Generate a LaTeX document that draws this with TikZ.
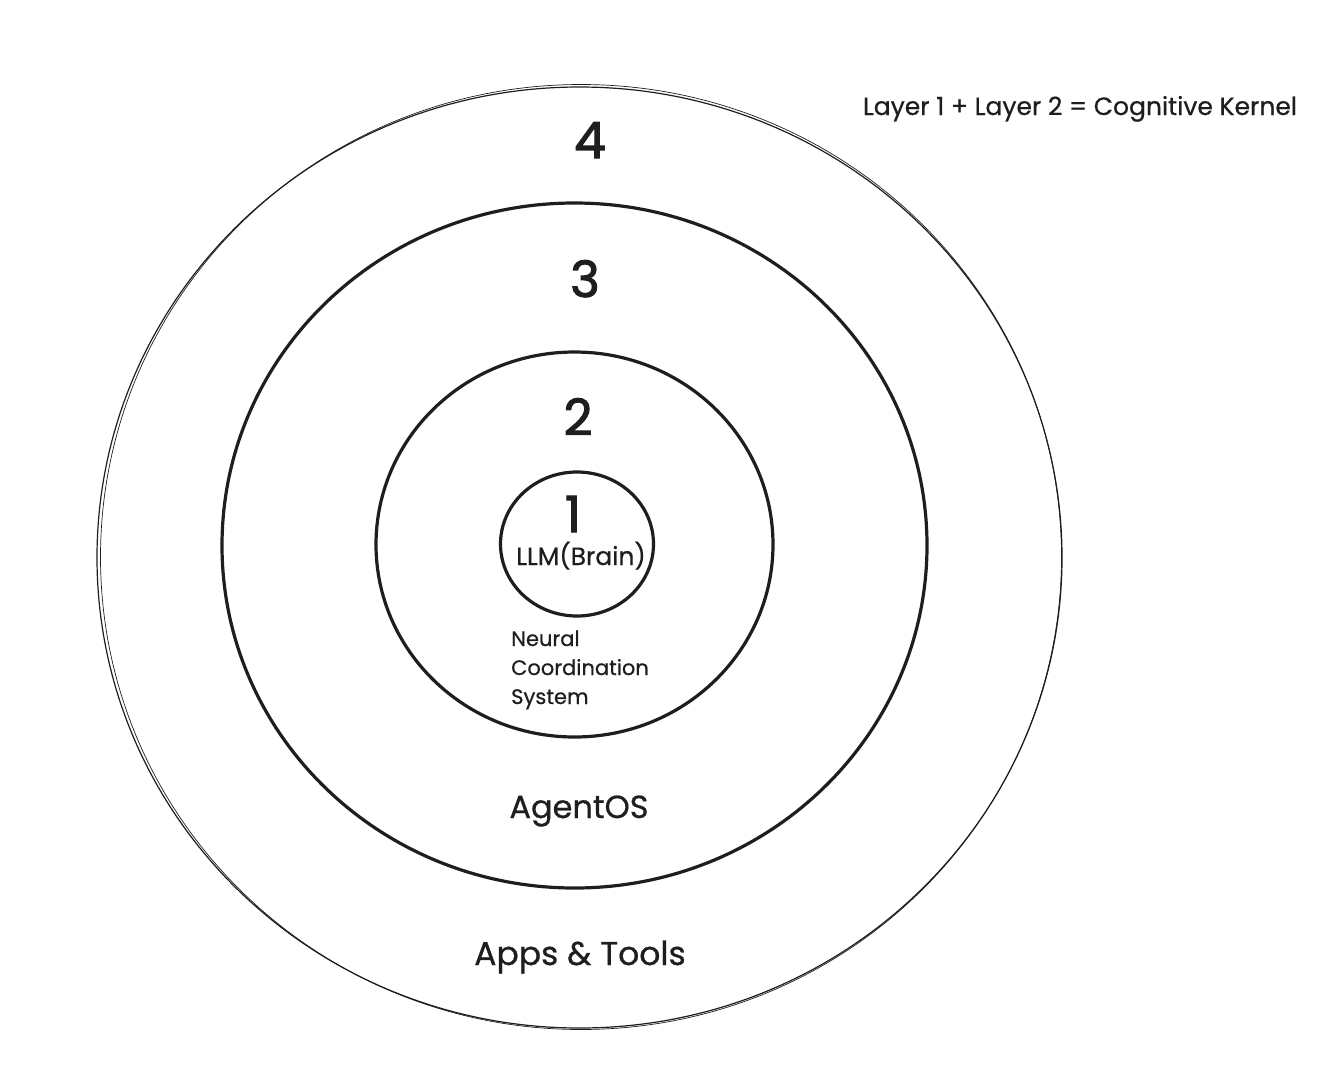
\documentclass[tikz,border=0pt]{standalone}
\usepackage{fontspec}
\setmainfont{Poppins}[FakeBold=0.6]
\newfontfamily\numfont{Poppins}[FakeBold=2.2]
\usepackage{xcolor}
\usetikzlibrary{positioning,shapes.geometric}
\definecolor{ink}{HTML}{1E1E1E}
\tikzset{ring/.style={draw=ink,ellipse,inner sep=0pt,line width=3.2pt},
  outerring/.style={draw=ink,ellipse,inner sep=0pt,line width=1.2pt},
  num/.style={text=ink,anchor=base,inner sep=0pt,font=\numfont\fontsize{50}{50}\selectfont},
  lbl/.style={text=ink,anchor=base,inner sep=0pt}}

\begin{document}
\begin{tikzpicture}[x=1pt,y=-1pt]
\useasboundingbox (0,0) rectangle (1344,1072);
% layers, from outside in
\node[outerring,minimum width=965,minimum height=941] (l4) at (579.5,557.5) {};
\node[draw=ink,ellipse,inner sep=0pt,line width=0.7pt,minimum width=961,minimum height=945] (l4b) at (581,557) {};
\node[ring,minimum width=705,minimum height=685] (l3) at (574.5,545.5) {};
\node[ring,minimum width=397,minimum height=385] (l2) at (574.5,544.5) {};
\node[ring,minimum width=153,minimum height=144] (l1) at (577,544) {};
% layer numbers
\node[num] (n4) at (590,158) {4};
\node[num] (n3) at (585,297) {3};
\node[num] (n2) at (578,435) {2};
\node[num] (n1) at (573,532) {1};
% layer names
\node[lbl,font=\fontsize{25}{25}\selectfont] (brain) at (581,565) {LLM(Brain)};
\node[text=ink,anchor=base west,inner sep=0pt,align=left,font=\fontsize{21}{29}\selectfont] (neural) at (511,704) {Neural\\Coordination\\System};
\node[lbl,font=\fontsize{32}{32}\selectfont] (os) at (579,818) {AgentOS};
\node[lbl,font=\fontsize{33}{33}\selectfont] (apps) at (580,965) {Apps \& Tools};
\node[lbl,font=\fontsize{25}{25}\selectfont] (kernel) at (1080,115) {Layer 1 + Layer 2 = Cognitive Kernel};
\end{tikzpicture}
\end{document}
